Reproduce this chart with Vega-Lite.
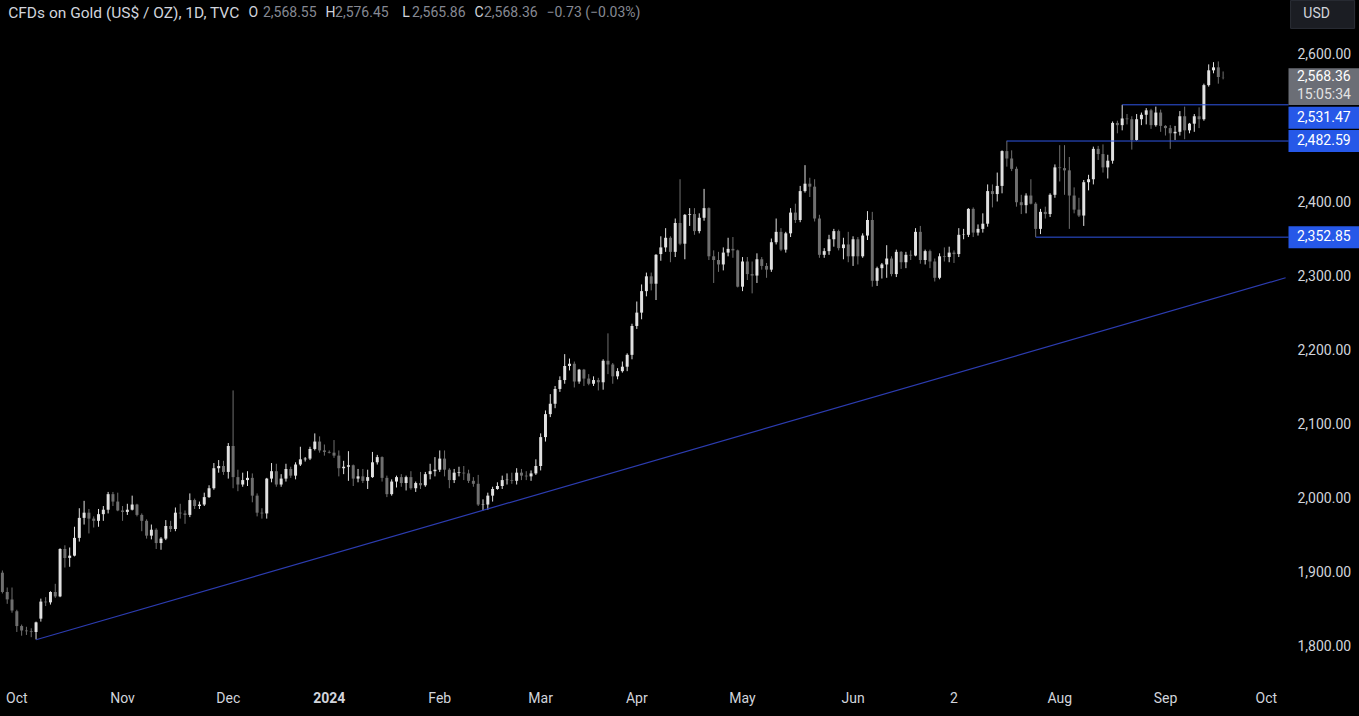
{
"$schema":"https://vega.github.io/schema/vega-lite/v6.json",
"width":1288,"height":682,
"autosize":{"type":"none"},
"padding":{"left":0,"top":0,"right":71,"bottom":34},
"background":"#000000",
"config":{"view":{"stroke":null},"font":"Roboto","axis":{"labelFont":"Roboto"},"text":{"font":"Roboto"}},
"datasets":{
"ohlc":[
{"d":"2023-09-27","o":1900,"h":1903,"l":1872,"c":1874},
{"d":"2023-09-28","o":1874,"h":1880,"l":1858,"c":1864},
{"d":"2023-09-29","o":1864,"h":1880,"l":1846,"c":1849},
{"d":"2023-10-02","o":1848,"h":1850,"l":1820,"c":1828},
{"d":"2023-10-03","o":1828,"h":1830,"l":1815,"c":1822},
{"d":"2023-10-04","o":1822,"h":1827,"l":1816,"c":1821},
{"d":"2023-10-05","o":1821,"h":1825,"l":1813,"c":1820},
{"d":"2023-10-06","o":1820,"h":1834,"l":1810,"c":1833},
{"d":"2023-10-09","o":1838,"h":1865,"l":1834,"c":1861},
{"d":"2023-10-10","o":1861,"h":1867,"l":1855,"c":1860},
{"d":"2023-10-11","o":1860,"h":1875,"l":1857,"c":1874},
{"d":"2023-10-12","o":1874,"h":1885,"l":1866,"c":1868},
{"d":"2023-10-13","o":1868,"h":1933,"l":1867,"c":1932},
{"d":"2023-10-16","o":1932,"h":1937,"l":1907,"c":1920},
{"d":"2023-10-17","o":1920,"h":1934,"l":1908,"c":1923},
{"d":"2023-10-18","o":1923,"h":1962,"l":1922,"c":1947},
{"d":"2023-10-19","o":1947,"h":1987,"l":1942,"c":1974},
{"d":"2023-10-20","o":1974,"h":1997,"l":1965,"c":1981},
{"d":"2023-10-23","o":1981,"h":1986,"l":1953,"c":1973},
{"d":"2023-10-24","o":1973,"h":1976,"l":1961,"c":1970},
{"d":"2023-10-25","o":1970,"h":1986,"l":1962,"c":1979},
{"d":"2023-10-26","o":1979,"h":1990,"l":1970,"c":1985},
{"d":"2023-10-27","o":1985,"h":2009,"l":1980,"c":2006},
{"d":"2023-10-30","o":2006,"h":2009,"l":1990,"c":1996},
{"d":"2023-10-31","o":1996,"h":2008,"l":1983,"c":1984},
{"d":"2023-11-01","o":1984,"h":1990,"l":1970,"c":1982},
{"d":"2023-11-02","o":1982,"h":1993,"l":1978,"c":1985},
{"d":"2023-11-03","o":1985,"h":2004,"l":1984,"c":1992},
{"d":"2023-11-06","o":1992,"h":1993,"l":1976,"c":1978},
{"d":"2023-11-07","o":1978,"h":1980,"l":1956,"c":1970},
{"d":"2023-11-08","o":1970,"h":1972,"l":1946,"c":1950},
{"d":"2023-11-09","o":1950,"h":1965,"l":1945,"c":1958},
{"d":"2023-11-10","o":1958,"h":1960,"l":1932,"c":1940},
{"d":"2023-11-13","o":1940,"h":1948,"l":1931,"c":1946},
{"d":"2023-11-14","o":1946,"h":1971,"l":1944,"c":1963},
{"d":"2023-11-15","o":1963,"h":1970,"l":1955,"c":1959},
{"d":"2023-11-16","o":1959,"h":1988,"l":1956,"c":1981},
{"d":"2023-11-17","o":1981,"h":1993,"l":1973,"c":1980},
{"d":"2023-11-20","o":1980,"h":1984,"l":1966,"c":1978},
{"d":"2023-11-21","o":1978,"h":2007,"l":1975,"c":1998},
{"d":"2023-11-22","o":1998,"h":2000,"l":1986,"c":1990},
{"d":"2023-11-23","o":1990,"h":1996,"l":1986,"c":1992},
{"d":"2023-11-24","o":1992,"h":2008,"l":1990,"c":2002},
{"d":"2023-11-27","o":2002,"h":2018,"l":2001,"c":2014},
{"d":"2023-11-28","o":2014,"h":2048,"l":2012,"c":2041},
{"d":"2023-11-29","o":2041,"h":2052,"l":2035,"c":2044},
{"d":"2023-11-30","o":2044,"h":2051,"l":2032,"c":2036},
{"d":"2023-12-01","o":2036,"h":2075,"l":2027,"c":2071},
{"d":"2023-12-04","o":2071,"h":2146,"l":2014,"c":2029},
{"d":"2023-12-05","o":2029,"h":2039,"l":2010,"c":2019},
{"d":"2023-12-06","o":2019,"h":2035,"l":2016,"c":2025},
{"d":"2023-12-07","o":2025,"h":2037,"l":2017,"c":2028},
{"d":"2023-12-08","o":2028,"h":2034,"l":1995,"c":2004},
{"d":"2023-12-11","o":2004,"h":2007,"l":1976,"c":1981},
{"d":"2023-12-12","o":1981,"h":1987,"l":1973,"c":1980},
{"d":"2023-12-13","o":1980,"h":2028,"l":1973,"c":2027},
{"d":"2023-12-14","o":2027,"h":2048,"l":2022,"c":2037},
{"d":"2023-12-15","o":2037,"h":2047,"l":2016,"c":2019},
{"d":"2023-12-18","o":2019,"h":2033,"l":2016,"c":2027},
{"d":"2023-12-19","o":2027,"h":2047,"l":2023,"c":2040},
{"d":"2023-12-20","o":2040,"h":2043,"l":2028,"c":2031},
{"d":"2023-12-21","o":2031,"h":2049,"l":2026,"c":2046},
{"d":"2023-12-22","o":2046,"h":2070,"l":2044,"c":2053},
{"d":"2023-12-25","o":2053,"h":2056,"l":2050,"c":2054},
{"d":"2023-12-26","o":2054,"h":2070,"l":2052,"c":2067},
{"d":"2023-12-27","o":2067,"h":2088,"l":2065,"c":2077},
{"d":"2023-12-28","o":2077,"h":2084,"l":2062,"c":2065},
{"d":"2023-12-29","o":2065,"h":2073,"l":2058,"c":2063},
{"d":"2024-01-01","o":2063,"h":2065,"l":2061,"c":2062},
{"d":"2024-01-02","o":2062,"h":2079,"l":2055,"c":2058},
{"d":"2024-01-03","o":2058,"h":2065,"l":2030,"c":2041},
{"d":"2024-01-04","o":2041,"h":2051,"l":2033,"c":2043},
{"d":"2024-01-05","o":2043,"h":2064,"l":2024,"c":2045},
{"d":"2024-01-08","o":2045,"h":2046,"l":2017,"c":2027},
{"d":"2024-01-09","o":2027,"h":2040,"l":2022,"c":2030},
{"d":"2024-01-10","o":2030,"h":2040,"l":2021,"c":2024},
{"d":"2024-01-11","o":2024,"h":2039,"l":2013,"c":2029},
{"d":"2024-01-12","o":2029,"h":2063,"l":2028,"c":2049},
{"d":"2024-01-15","o":2049,"h":2059,"l":2046,"c":2056},
{"d":"2024-01-16","o":2056,"h":2057,"l":2023,"c":2028},
{"d":"2024-01-17","o":2028,"h":2031,"l":2002,"c":2006},
{"d":"2024-01-18","o":2006,"h":2026,"l":2004,"c":2023},
{"d":"2024-01-19","o":2023,"h":2031,"l":2015,"c":2029},
{"d":"2024-01-22","o":2029,"h":2033,"l":2016,"c":2021},
{"d":"2024-01-23","o":2021,"h":2031,"l":2011,"c":2029},
{"d":"2024-01-24","o":2029,"h":2037,"l":2012,"c":2014},
{"d":"2024-01-25","o":2014,"h":2023,"l":2009,"c":2021},
{"d":"2024-01-26","o":2021,"h":2036,"l":2013,"c":2018},
{"d":"2024-01-29","o":2018,"h":2036,"l":2016,"c":2033},
{"d":"2024-01-30","o":2033,"h":2047,"l":2026,"c":2037},
{"d":"2024-01-31","o":2037,"h":2056,"l":2030,"c":2039},
{"d":"2024-02-01","o":2039,"h":2065,"l":2036,"c":2054},
{"d":"2024-02-02","o":2054,"h":2065,"l":2030,"c":2039},
{"d":"2024-02-05","o":2039,"h":2041,"l":2014,"c":2025},
{"d":"2024-02-06","o":2025,"h":2040,"l":2021,"c":2035},
{"d":"2024-02-07","o":2034.5,"h":2043,"l":2030,"c":2035.5},
{"d":"2024-02-08","o":2035,"h":2044,"l":2025,"c":2034},
{"d":"2024-02-09","o":2034,"h":2039,"l":2021,"c":2024},
{"d":"2024-02-12","o":2024,"h":2029,"l":2016,"c":2020},
{"d":"2024-02-13","o":2020,"h":2032,"l":1990,"c":1992},
{"d":"2024-02-14","o":1992,"h":1999,"l":1984,"c":1992.5},
{"d":"2024-02-15","o":1992,"h":2008,"l":1985,"c":2004},
{"d":"2024-02-16","o":2004,"h":2016,"l":1996,"c":2013},
{"d":"2024-02-19","o":2013,"h":2022,"l":2012,"c":2017},
{"d":"2024-02-20","o":2017,"h":2031,"l":2013,"c":2025},
{"d":"2024-02-21","o":2025,"h":2034,"l":2019,"c":2025.5},
{"d":"2024-02-22","o":2025,"h":2035,"l":2020,"c":2024},
{"d":"2024-02-23","o":2024,"h":2041,"l":2019,"c":2035},
{"d":"2024-02-26","o":2035,"h":2040,"l":2025,"c":2031},
{"d":"2024-02-27","o":2031,"h":2037,"l":2025,"c":2030},
{"d":"2024-02-28","o":2030,"h":2038,"l":2024,"c":2034},
{"d":"2024-02-29","o":2034,"h":2053,"l":2032,"c":2044},
{"d":"2024-03-01","o":2044,"h":2088,"l":2038,"c":2083},
{"d":"2024-03-04","o":2083,"h":2119,"l":2077,"c":2114},
{"d":"2024-03-05","o":2114,"h":2141,"l":2110,"c":2128},
{"d":"2024-03-06","o":2128,"h":2152,"l":2122,"c":2148},
{"d":"2024-03-07","o":2148,"h":2165,"l":2144,"c":2160},
{"d":"2024-03-08","o":2160,"h":2195,"l":2155,"c":2179},
{"d":"2024-03-11","o":2179,"h":2189,"l":2173,"c":2182},
{"d":"2024-03-12","o":2182,"h":2185,"l":2150,"c":2158},
{"d":"2024-03-13","o":2158,"h":2175,"l":2155,"c":2174},
{"d":"2024-03-14","o":2174,"h":2175,"l":2152,"c":2162},
{"d":"2024-03-15","o":2162,"h":2168,"l":2153,"c":2155},
{"d":"2024-03-18","o":2155,"h":2165,"l":2152,"c":2160},
{"d":"2024-03-19","o":2160,"h":2163,"l":2146,"c":2157},
{"d":"2024-03-20","o":2157,"h":2188,"l":2147,"c":2186},
{"d":"2024-03-21","o":2186,"h":2223,"l":2168,"c":2181},
{"d":"2024-03-22","o":2181,"h":2183,"l":2155,"c":2165},
{"d":"2024-03-25","o":2165,"h":2176,"l":2161,"c":2172},
{"d":"2024-03-26","o":2172,"h":2185,"l":2170,"c":2178},
{"d":"2024-03-27","o":2178,"h":2196,"l":2172,"c":2194},
{"d":"2024-03-28","o":2194,"h":2236,"l":2188,"c":2233},
{"d":"2024-04-01","o":2233,"h":2266,"l":2229,"c":2251},
{"d":"2024-04-02","o":2251,"h":2289,"l":2242,"c":2280},
{"d":"2024-04-03","o":2280,"h":2305,"l":2273,"c":2300},
{"d":"2024-04-04","o":2300,"h":2305,"l":2281,"c":2290},
{"d":"2024-04-05","o":2290,"h":2330,"l":2268,"c":2329},
{"d":"2024-04-08","o":2330,"h":2354,"l":2321,"c":2339},
{"d":"2024-04-09","o":2339,"h":2365,"l":2333,"c":2352},
{"d":"2024-04-10","o":2352,"h":2354,"l":2319,"c":2333},
{"d":"2024-04-11","o":2333,"h":2378,"l":2326,"c":2372},
{"d":"2024-04-12","o":2372,"h":2431,"l":2342,"c":2344},
{"d":"2024-04-15","o":2344,"h":2384,"l":2323,"c":2383},
{"d":"2024-04-16","o":2383,"h":2392,"l":2368,"c":2384},
{"d":"2024-04-17","o":2384,"h":2392,"l":2356,"c":2361},
{"d":"2024-04-18","o":2361,"h":2385,"l":2358,"c":2379},
{"d":"2024-04-19","o":2379,"h":2418,"l":2375,"c":2392},
{"d":"2024-04-22","o":2392,"h":2393,"l":2322,"c":2327},
{"d":"2024-04-23","o":2327,"h":2335,"l":2291,"c":2322},
{"d":"2024-04-24","o":2322,"h":2333,"l":2306,"c":2316},
{"d":"2024-04-25","o":2316,"h":2339,"l":2308,"c":2332},
{"d":"2024-04-26","o":2332,"h":2352,"l":2327,"c":2337},
{"d":"2024-04-29","o":2337,"h":2353,"l":2325,"c":2335},
{"d":"2024-04-30","o":2335,"h":2336,"l":2285,"c":2286},
{"d":"2024-05-01","o":2286,"h":2326,"l":2280,"c":2320},
{"d":"2024-05-02","o":2320,"h":2326,"l":2295,"c":2303},
{"d":"2024-05-03","o":2303,"h":2320,"l":2277,"c":2301},
{"d":"2024-05-06","o":2301,"h":2331,"l":2291,"c":2323},
{"d":"2024-05-07","o":2323,"h":2326,"l":2309,"c":2314},
{"d":"2024-05-08","o":2314,"h":2318,"l":2298,"c":2309},
{"d":"2024-05-09","o":2309,"h":2351,"l":2306,"c":2346},
{"d":"2024-05-10","o":2346,"h":2378,"l":2343,"c":2360},
{"d":"2024-05-13","o":2360,"h":2365,"l":2334,"c":2336},
{"d":"2024-05-14","o":2336,"h":2360,"l":2332,"c":2358},
{"d":"2024-05-15","o":2358,"h":2392,"l":2353,"c":2386},
{"d":"2024-05-16","o":2386,"h":2398,"l":2372,"c":2376},
{"d":"2024-05-17","o":2376,"h":2422,"l":2373,"c":2415},
{"d":"2024-05-20","o":2415,"h":2450,"l":2413,"c":2425},
{"d":"2024-05-21","o":2425,"h":2433,"l":2407,"c":2421},
{"d":"2024-05-22","o":2421,"h":2431,"l":2374,"c":2378},
{"d":"2024-05-23","o":2378,"h":2383,"l":2325,"c":2329},
{"d":"2024-05-24","o":2329,"h":2338,"l":2325,"c":2334},
{"d":"2024-05-27","o":2334,"h":2356,"l":2329,"c":2350},
{"d":"2024-05-28","o":2350,"h":2364,"l":2340,"c":2361},
{"d":"2024-05-29","o":2361,"h":2363,"l":2335,"c":2338},
{"d":"2024-05-30","o":2338,"h":2352,"l":2323,"c":2343},
{"d":"2024-05-31","o":2343,"h":2360,"l":2319,"c":2327},
{"d":"2024-06-03","o":2327,"h":2354,"l":2314,"c":2350},
{"d":"2024-06-04","o":2350,"h":2353,"l":2316,"c":2327},
{"d":"2024-06-05","o":2327,"h":2358,"l":2325,"c":2355},
{"d":"2024-06-06","o":2355,"h":2388,"l":2349,"c":2376},
{"d":"2024-06-07","o":2376,"h":2387,"l":2286,"c":2294},
{"d":"2024-06-10","o":2294,"h":2313,"l":2287,"c":2311},
{"d":"2024-06-11","o":2311,"h":2318,"l":2297,"c":2316},
{"d":"2024-06-12","o":2316,"h":2342,"l":2298,"c":2324},
{"d":"2024-06-13","o":2324,"h":2327,"l":2300,"c":2303},
{"d":"2024-06-14","o":2303,"h":2336,"l":2299,"c":2333},
{"d":"2024-06-17","o":2333,"h":2334,"l":2310,"c":2319},
{"d":"2024-06-18","o":2319,"h":2333,"l":2311,"c":2329},
{"d":"2024-06-19","o":2329,"h":2335,"l":2322,"c":2328},
{"d":"2024-06-20","o":2328,"h":2365,"l":2327,"c":2360},
{"d":"2024-06-21","o":2360,"h":2368,"l":2317,"c":2322},
{"d":"2024-06-24","o":2322,"h":2336,"l":2316,"c":2334},
{"d":"2024-06-25","o":2334,"h":2336,"l":2311,"c":2320},
{"d":"2024-06-26","o":2320,"h":2324,"l":2293,"c":2298},
{"d":"2024-06-27","o":2298,"h":2331,"l":2296,"c":2327},
{"d":"2024-06-28","o":2327,"h":2339,"l":2320,"c":2326},
{"d":"2024-07-01","o":2326,"h":2340,"l":2319,"c":2332},
{"d":"2024-07-02","o":2332,"h":2335,"l":2318,"c":2330},
{"d":"2024-07-03","o":2330,"h":2365,"l":2326,"c":2356},
{"d":"2024-07-04","o":2356,"h":2364,"l":2350,"c":2356.5},
{"d":"2024-07-05","o":2356,"h":2392,"l":2353,"c":2391},
{"d":"2024-07-08","o":2391,"h":2393,"l":2353,"c":2359},
{"d":"2024-07-09","o":2359,"h":2370,"l":2355,"c":2364},
{"d":"2024-07-10","o":2364,"h":2385,"l":2359,"c":2371},
{"d":"2024-07-11","o":2371,"h":2424,"l":2367,"c":2415},
{"d":"2024-07-12","o":2415,"h":2424,"l":2393,"c":2411},
{"d":"2024-07-15","o":2411,"h":2440,"l":2401,"c":2422},
{"d":"2024-07-16","o":2422,"h":2470,"l":2412,"c":2469},
{"d":"2024-07-17","o":2469,"h":2483,"l":2448,"c":2459},
{"d":"2024-07-18","o":2459,"h":2470,"l":2442,"c":2445},
{"d":"2024-07-19","o":2445,"h":2448,"l":2394,"c":2400},
{"d":"2024-07-22","o":2400,"h":2410,"l":2384,"c":2396},
{"d":"2024-07-23","o":2396,"h":2412,"l":2385,"c":2409},
{"d":"2024-07-24","o":2409,"h":2431,"l":2397,"c":2398},
{"d":"2024-07-25","o":2398,"h":2400,"l":2353,"c":2364},
{"d":"2024-07-26","o":2364,"h":2391,"l":2357,"c":2387},
{"d":"2024-07-29","o":2387,"h":2394,"l":2378,"c":2384},
{"d":"2024-07-30","o":2384,"h":2412,"l":2380,"c":2410},
{"d":"2024-07-31","o":2410,"h":2451,"l":2406,"c":2447},
{"d":"2024-08-01","o":2447,"h":2477,"l":2428,"c":2446},
{"d":"2024-08-02","o":2446,"h":2477,"l":2410,"c":2443},
{"d":"2024-08-05","o":2443,"h":2461,"l":2364,"c":2409},
{"d":"2024-08-06","o":2409,"h":2420,"l":2385,"c":2390},
{"d":"2024-08-07","o":2390,"h":2406,"l":2380,"c":2382},
{"d":"2024-08-08","o":2382,"h":2430,"l":2368,"c":2427},
{"d":"2024-08-09","o":2427,"h":2437,"l":2416,"c":2431},
{"d":"2024-08-12","o":2431,"h":2475,"l":2424,"c":2472},
{"d":"2024-08-13","o":2472,"h":2476,"l":2457,"c":2465},
{"d":"2024-08-14","o":2465,"h":2478,"l":2440,"c":2447},
{"d":"2024-08-15","o":2447,"h":2464,"l":2432,"c":2456},
{"d":"2024-08-16","o":2456,"h":2509,"l":2452,"c":2507},
{"d":"2024-08-19","o":2507,"h":2510,"l":2493,"c":2504},
{"d":"2024-08-20","o":2504,"h":2531.47,"l":2497,"c":2513},
{"d":"2024-08-21","o":2513,"h":2519,"l":2505,"c":2512},
{"d":"2024-08-22","o":2512,"h":2516,"l":2471,"c":2484},
{"d":"2024-08-23","o":2484,"h":2519,"l":2483,"c":2512},
{"d":"2024-08-26","o":2512,"h":2521,"l":2504,"c":2518},
{"d":"2024-08-27","o":2518,"h":2527,"l":2505,"c":2524},
{"d":"2024-08-28","o":2524,"h":2526,"l":2499,"c":2504},
{"d":"2024-08-29","o":2504,"h":2529,"l":2502,"c":2521},
{"d":"2024-08-30","o":2521,"h":2525,"l":2495,"c":2503},
{"d":"2024-09-02","o":2503,"h":2504,"l":2490,"c":2500},
{"d":"2024-09-03","o":2500,"h":2504,"l":2472,"c":2493},
{"d":"2024-09-04","o":2493,"h":2503,"l":2484,"c":2495},
{"d":"2024-09-05","o":2495,"h":2523,"l":2490,"c":2516},
{"d":"2024-09-06","o":2516,"h":2529,"l":2485,"c":2497},
{"d":"2024-09-09","o":2497,"h":2507,"l":2493,"c":2506},
{"d":"2024-09-10","o":2506,"h":2519,"l":2495,"c":2516},
{"d":"2024-09-11","o":2516,"h":2528,"l":2500,"c":2512},
{"d":"2024-09-12","o":2512,"h":2560,"l":2510,"c":2558},
{"d":"2024-09-13","o":2558,"h":2586,"l":2556,"c":2578},
{"d":"2024-09-16","o":2578,"h":2589,"l":2574,"c":2582},
{"d":"2024-09-17","o":2582,"h":2590,"l":2560,"c":2569},
{"d":"2024-09-18","o":2568.55,"h":2576.45,"l":2565.86,"c":2568.36}
],
"future":[{"d":"2024-09-19"},{"d":"2024-09-20"},{"d":"2024-09-23"},{"d":"2024-09-24"},{"d":"2024-09-25"},{"d":"2024-09-26"},{"d":"2024-09-27"},{"d":"2024-09-30"},{"d":"2024-10-01"},{"d":"2024-10-02"},{"d":"2024-10-03"},{"d":"2024-10-04"},{"d":"2024-10-07"}],
"trend":[{"d":"2023-10-06","p":1809.5},{"d":"2024-10-07","p":2298}],
"levels":[{"d":"2024-08-20","e":"2024-10-07","p":2531.47,"t":"2,531.47"},{"d":"2024-07-17","e":"2024-10-07","p":2482.59,"t":"2,482.59"},{"d":"2024-07-25","e":"2024-10-07","p":2352.85,"t":"2,352.85"}],
"last":[{"e":"2024-10-07","p":2568.36,"t":"2,568.36","cd":"15:05:34"}],
"usd":[{"e":"2024-10-07","t":"USD"}],
"hdr":[
{"d":"2023-09-28","s":"CFDs on Gold (US$ / OZ), 1D, TVC","k":"title"},
{"d":"2023-12-07","s":"O","k":"key"},
{"d":"2023-12-12","s":"2,568.55","k":"val"},
{"d":"2023-12-29","s":"H","k":"key"},
{"d":"2024-01-02","s":"2,576.45","k":"val"},
{"d":"2024-01-22","s":"L","k":"key"},
{"d":"2024-01-24","s":"2,565.86","k":"val"},
{"d":"2024-02-12","s":"C","k":"key"},
{"d":"2024-02-14","s":"2,568.36","k":"val"},
{"d":"2024-03-04","s":"−0.73 (−0.03%)","k":"val"}
]
},
"layer":[
{"data":{"name":"ohlc"},
 "mark":{"type":"rule","strokeWidth":1},
 "encoding":{
  "x":{"field":"d","type":"ordinal","scale":{"paddingInner":0,"paddingOuter":0},
   "axis":{"title":null,"domain":false,"ticks":false,"grid":false,"labelAngle":0,"labelPadding":9,"labelFontSize":14,"labelColor":"#d1d4dc","labelOverlap":false,
    "values":["2023-10-02","2023-11-01","2023-12-01","2024-01-01","2024-02-01","2024-03-01","2024-04-01","2024-05-01","2024-06-03","2024-07-02","2024-08-01","2024-09-02","2024-10-01"],
    "labelExpr":"['Oct','Nov','Dec','2024','Feb','Mar','Apr','May','Jun','2','Aug','Sep','Oct'][indexof(['2023-10-02','2023-11-01','2023-12-01','2024-01-01','2024-02-01','2024-03-01','2024-04-01','2024-05-01','2024-06-03','2024-07-02','2024-08-01','2024-09-02','2024-10-01'], datum.value)]",
    "labelFontWeight":{"condition":{"test":"datum.value == '2024-01-01'","value":"bold"},"value":"normal"}}},
  "y":{"field":"l","type":"quantitative","scale":{"domain":[1752.5,2672.9],"nice":false,"zero":false},
   "axis":{"title":null,"orient":"right","domain":false,"ticks":false,"grid":false,"format":",.2f","labelPadding":9,"labelFontSize":14,"labelColor":"#d1d4dc","labelAlign":"left",
    "values":[1800,1900,2000,2100,2200,2300,2400,2600]}},
  "y2":{"field":"h"},
  "color":{"condition":{"test":"datum.c >= datum.o","value":"#e1e1e1"},"value":"#6f6f6f"}}},
{"data":{"name":"ohlc"},
 "mark":{"type":"bar","width":{"band":0.62}},
 "encoding":{
  "x":{"field":"d","type":"ordinal"},
  "y":{"field":"o","type":"quantitative"},
  "y2":{"field":"c"},
  "color":{"condition":{"test":"datum.c >= datum.o","value":"#e1e1e1"},"value":"#6f6f6f"}}},
{"data":{"name":"future"},
 "mark":{"type":"text","text":""},
 "encoding":{"x":{"field":"d","type":"ordinal"}}},
{"data":{"name":"trend"},
 "mark":{"type":"line","color":"#2c3cb0","strokeWidth":1.2},
 "encoding":{"x":{"field":"d","type":"ordinal"},"y":{"field":"p","type":"quantitative"}}},
{"data":{"name":"levels"},
 "mark":{"type":"rule","color":"#2f55e4","strokeWidth":1,"x2Offset":3},
 "encoding":{"x":{"field":"d","type":"ordinal"},"x2":{"field":"e"},"y":{"field":"p","type":"quantitative"}}},
{"data":{"name":"hdr"},
 "mark":{"type":"text","align":"left","baseline":"middle","dx":1},
 "encoding":{"x":{"field":"d","type":"ordinal"},"y":{"datum":2655,"type":"quantitative"},"text":{"field":"s"},
  "size":{"condition":{"test":"datum.k == 'title'","value":15.5},"value":14},
  "color":{"condition":{"test":"datum.k == 'val'","value":"#868993"},"value":"#d1d4dc"}}},
{"data":{"name":"levels"},
 "transform":[{"filter":"datum.p < 2500"}],
 "mark":{"type":"point","shape":"M-35.5,-11H35.5V11H-35.5Z","size":4,"filled":true,"fill":"#2658e8","opacity":1,"strokeWidth":0,"xOffset":38.4},
 "encoding":{"x":{"field":"e","type":"ordinal"},"y":{"field":"p","type":"quantitative"}}},
{"data":{"name":"levels"},
 "transform":[{"filter":"datum.p > 2500"}],
 "mark":{"type":"point","shape":"M-35.5,-11H35.5V11H-35.5Z","size":4,"filled":true,"fill":"#2658e8","opacity":1,"strokeWidth":0,"xOffset":38.4,"yOffset":13},
 "encoding":{"x":{"field":"e","type":"ordinal"},"y":{"field":"p","type":"quantitative"}}},
{"data":{"name":"levels"},
 "transform":[{"filter":"datum.p < 2500"}],
 "mark":{"type":"text","align":"left","baseline":"middle","fontSize":14,"dx":11.4,"color":"#ffffff"},
 "encoding":{"x":{"field":"e","type":"ordinal"},"y":{"field":"p","type":"quantitative"},"text":{"field":"t"}}},
{"data":{"name":"levels"},
 "transform":[{"filter":"datum.p > 2500"}],
 "mark":{"type":"text","align":"left","baseline":"middle","fontSize":14,"dx":11.4,"dy":13,"color":"#ffffff"},
 "encoding":{"x":{"field":"e","type":"ordinal"},"y":{"field":"p","type":"quantitative"},"text":{"field":"t"}}},
{"data":{"name":"last"},
 "mark":{"type":"point","shape":"M-35.5,-18.3H35.5V18.3H-35.5Z","size":4,"filled":true,"fill":"#6b6e76","opacity":1,"strokeWidth":0,"xOffset":38.4,"yOffset":9.2},
 "encoding":{"x":{"field":"e","type":"ordinal"},"y":{"field":"p","type":"quantitative"}}},
{"data":{"name":"last"},
 "mark":{"type":"text","align":"left","baseline":"middle","fontSize":14,"dx":11.4,"color":"#ffffff"},
 "encoding":{"x":{"field":"e","type":"ordinal"},"y":{"field":"p","type":"quantitative"},"text":{"field":"t"}}},
{"data":{"name":"last"},
 "mark":{"type":"text","align":"left","baseline":"middle","fontSize":14,"dx":11.4,"dy":18,"color":"#e3e3e3"},
 "encoding":{"x":{"field":"e","type":"ordinal"},"y":{"field":"p","type":"quantitative"},"text":{"field":"cd"}}},
{"data":{"name":"usd"},
 "mark":{"type":"point","shape":"M-32,-14H32V14H-32Z","size":4,"filled":true,"fill":"#1b1d23","stroke":"#2c2f37","strokeWidth":1,"opacity":1,"xOffset":37},
 "encoding":{"x":{"field":"e","type":"ordinal"},"y":{"datum":2653.5,"type":"quantitative"}}},
{"data":{"name":"usd"},
 "mark":{"type":"text","align":"center","baseline":"middle","fontSize":14,"xOffset":31,"color":"#d1d4dc"},
 "encoding":{"x":{"field":"e","type":"ordinal"},"y":{"datum":2653.5,"type":"quantitative"},"text":{"field":"t"}}}
]
}
